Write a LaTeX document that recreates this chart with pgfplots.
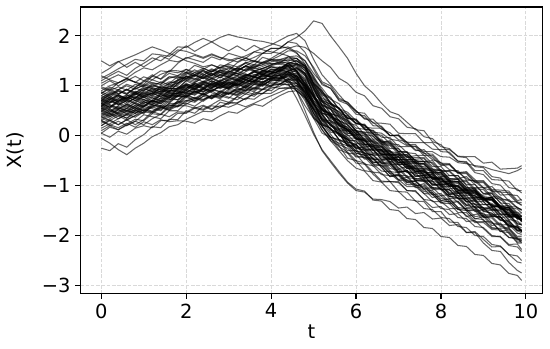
\documentclass[border=0pt]{standalone}
\usepackage{fontspec}
\setmainfont{DejaVu Sans}
\usepackage{pgfplots}
\usepackage{pgfplotstable}
\pgfplotsset{compat=1.18}
\usetikzlibrary{calc}

% one row per path, transposed below into columns t, p1, p2, ...
\pgfplotstableread{
name c0 c1 c2 c3 c4 c5 c6 c7 c8 c9 c10 c11 c12 c13 c14 c15 c16 c17 c18 c19 c20 c21 c22 c23 c24 c25 c26 c27 c28 c29 c30 c31 c32 c33 c34 c35 c36 c37 c38 c39 c40 c41 c42 c43 c44 c45 c46 c47 c48 c49 c50
t 0 0.2 0.4 0.6 0.8 1 1.2 1.4 1.6 1.8 2 2.2 2.4 2.6 2.8 3 3.2 3.4 3.6 3.8 4 4.2 4.4 4.6 4.8 5 5.2 5.4 5.6 5.8 6 6.2 6.4 6.6 6.8 7 7.2 7.4 7.6 7.8 8 8.2 8.4 8.6 8.8 9 9.2 9.4 9.6 9.8 9.9
p1 0.85 0.94 0.84 0.92 0.82 0.92 1.04 0.96 0.93 1.09 1.23 1.32 1.23 1.16 1.27 1.17 1.28 1.40 1.35 1.31 1.25 1.38 1.32 1.35 1.25 0.83 0.45 0.41 0.12 0.09 0.07 -0.15 -0.35 -0.30 -0.48 -0.42 -0.62 -0.81 -0.79 -1.00 -0.98 -1.18 -1.16 -1.12 -1.31 -1.51 -1.50 -1.49 -1.70 -1.90 -1.88
p2 0.20 0.32 0.22 0.32 0.22 0.32 0.48 0.43 0.61 0.60 0.77 0.70 0.84 0.76 0.90 0.85 0.80 0.93 0.88 1.03 0.98 1.15 1.12 1.20 1.10 0.67 0.32 0.30 0.05 -0.20 -0.17 -0.37 -0.55 -0.51 -0.70 -0.88 -0.83 -1.01 -0.96 -1.14 -1.30 -1.26 -1.44 -1.62 -1.58 -1.55 -1.73 -1.92 -1.88 -2.07 -2.08
p3 1.50 1.40 1.49 1.37 1.47 1.38 1.49 1.60 1.53 1.68 1.80 1.69 1.79 1.88 1.78 1.70 1.80 1.70 1.81 1.72 1.68 1.65 1.60 1.45 1.35 1.10 0.75 0.67 0.42 0.35 0.33 0.13 0.10 -0.11 -0.12 -0.32 -0.32 -0.51 -0.52 -0.50 -0.70 -0.70 -0.70 -0.89 -0.90 -0.90 -1.08 -1.09 -1.11 -1.30 -1.28
p4 -0.25 -0.30 -0.16 -0.23 -0.08 0.02 0.18 0.16 0.33 0.32 0.50 0.45 0.59 0.52 0.67 0.63 0.78 0.72 0.87 0.84 0.98 0.95 0.95 1.00 0.95 0.70 0.55 0.27 0.22 -0.05 -0.05 -0.27 -0.27 -0.48 -0.47 -0.42 -0.62 -0.60 -0.80 -0.77 -0.98 -0.95 -1.16 -1.14 -1.10 -1.28 -1.24 -1.43 -1.62 -1.59 -1.72
p5 0.70 0.80 0.69 0.79 0.89 0.85 0.82 0.98 0.95 0.95 1.10 1.21 1.15 1.28 1.37 1.31 1.46 1.55 1.48 1.65 1.75 1.75 1.88 1.97 2.10 2.30 2.25 2.00 1.78 1.55 1.25 1.00 0.85 0.65 0.48 0.42 0.27 0.12 0.10 -0.12 -0.18 -0.36 -0.51 -0.54 -0.74 -0.78 -0.96 -0.99 -1.18 -1.20 -1.30
p6 0.65 0.57 0.72 0.63 0.77 0.72 0.66 0.82 0.77 0.96 0.91 1.05 0.97 1.10 1.02 0.95 1.10 1.02 1.18 1.12 1.25 1.20 1.10 0.90 0.60 0.35 0.20 -0.03 -0.08 -0.30 -0.30 -0.47 -0.47 -0.63 -0.82 -0.78 -0.94 -0.91 -1.07 -1.24 -1.20 -1.36 -1.32 -1.49 -1.67 -1.62 -1.80 -1.77 -1.96 -2.15 -2.15
p7 1.00 1.10 1.00 1.10 1.19 1.10 1.22 1.13 1.25 1.20 1.33 1.22 1.31 1.20 1.30 1.20 1.30 1.40 1.31 1.27 1.38 1.33 1.45 1.50 1.40 0.95 0.60 0.53 0.25 0.17 -0.03 -0.23 -0.21 -0.39 -0.36 -0.54 -0.50 -0.68 -0.86 -0.82 -1.00 -0.96 -1.14 -1.09 -1.27 -1.45 -1.42 -1.59 -1.58 -1.75 -1.75
p8 0.35 0.44 0.34 0.43 0.52 0.46 0.58 0.52 0.65 0.80 0.77 0.89 0.83 0.94 0.88 0.83 0.96 0.90 1.03 0.99 1.12 1.10 1.10 1.00 0.75 0.40 0.12 -0.10 -0.20 -0.45 -0.50 -0.70 -0.73 -0.91 -0.92 -1.12 -1.13 -1.31 -1.32 -1.52 -1.52 -1.73 -1.74 -1.94 -1.94 -2.15 -2.30 -2.32 -2.54 -2.70 -2.75
p9 0.65 0.77 0.89 0.83 0.97 1.08 1.19 1.30 1.28 1.45 1.57 1.52 1.47 1.58 1.52 1.65 1.60 1.55 1.68 1.65 1.75 1.75 1.88 1.85 1.67 1.33 1.02 0.95 0.70 0.63 0.43 0.40 0.20 0.19 0.00 0.00 -0.18 -0.18 -0.36 -0.37 -0.55 -0.56 -0.74 -0.74 -0.92 -0.92 -1.10 -1.12 -1.31 -1.33 -1.40
p10 0.50 0.44 0.39 0.50 0.45 0.58 0.54 0.50 0.65 0.64 0.80 0.75 0.69 0.80 0.74 0.87 0.83 0.95 0.91 1.05 1.00 1.10 1.20 1.20 0.95 0.57 0.38 0.13 0.05 -0.20 -0.23 -0.23 -0.40 -0.38 -0.54 -0.72 -0.72 -0.90 -0.90 -0.90 -1.08 -1.08 -1.26 -1.26 -1.44 -1.60 -1.58 -1.57 -1.74 -1.91 -1.90
p11 1.10 1.20 1.29 1.21 1.35 1.45 1.56 1.50 1.63 1.78 1.77 1.87 1.95 1.88 1.97 2.03 1.98 1.95 1.91 1.89 1.85 1.80 1.75 1.65 1.50 1.17 0.85 0.77 0.52 0.43 0.25 0.21 0.03 -0.13 -0.16 -0.32 -0.33 -0.51 -0.52 -0.70 -0.70 -0.88 -0.88 -1.06 -1.07 -1.25 -1.26 -1.45 -1.46 -1.65 -1.65
p12 0.55 0.65 0.74 0.67 0.75 0.68 0.79 0.90 0.85 0.85 0.98 0.91 1.03 0.96 1.08 1.05 1.00 1.12 1.08 1.22 1.22 1.20 1.15 0.90 0.50 0.07 -0.30 -0.53 -0.75 -0.95 -1.10 -1.13 -1.27 -1.28 -1.32 -1.45 -1.43 -1.56 -1.54 -1.67 -1.65 -1.80 -1.78 -1.94 -1.92 -2.08 -2.23 -2.22 -2.38 -2.53 -2.55
p13 0.62 0.54 0.69 0.77 0.71 0.84 0.80 0.74 0.91 0.90 0.85 0.99 1.09 1.00 1.10 1.20 1.14 1.24 1.17 1.29 1.38 1.35 1.45 1.45 1.30 1.05 0.72 0.63 0.38 0.30 0.10 0.07 0.05 -0.13 -0.14 -0.32 -0.48 -0.48 -0.66 -0.67 -0.68 -0.86 -0.86 -1.04 -1.04 -1.04 -1.22 -1.23 -1.42 -1.43 -1.50
p14 0.25 0.34 0.44 0.35 0.45 0.55 0.49 0.60 0.55 0.70 0.83 0.75 0.85 0.76 0.86 0.97 0.90 1.00 1.11 1.05 1.15 1.13 1.22 1.25 1.13 0.77 0.60 0.37 0.32 0.10 0.10 -0.07 -0.07 -0.23 -0.40 -0.38 -0.53 -0.71 -0.68 -0.85 -0.82 -0.98 -0.96 -1.12 -1.30 -1.26 -1.43 -1.42 -1.60 -1.59 -1.68
p15 0.85 0.97 0.92 1.03 0.97 1.10 1.06 1.03 1.18 1.18 1.15 1.27 1.21 1.32 1.26 1.35 1.30 1.40 1.35 1.47 1.52 1.60 1.70 1.70 1.60 1.37 1.08 1.00 0.75 0.67 0.47 0.45 0.25 0.25 0.23 0.05 0.04 0.04 -0.14 -0.14 -0.32 -0.33 -0.51 -0.52 -0.70 -0.70 -0.88 -0.89 -0.91 -1.10 -1.10
p16 0.05 -0.03 0.09 0.03 0.15 0.20 0.16 0.30 0.31 0.45 0.45 0.55 0.51 0.60 0.57 0.67 0.65 0.75 0.73 0.85 0.85 0.95 0.97 1.00 0.87 0.53 0.22 0.15 -0.08 -0.17 -0.35 -0.39 -0.57 -0.71 -0.72 -0.88 -1.02 -1.02 -1.16 -1.32 -1.32 -1.46 -1.46 -1.60 -1.74 -1.74 -1.88 -1.89 -2.04 -2.05 -2.15
p17 0.75 0.67 0.82 0.73 0.65 0.78 0.89 0.83 0.95 0.94 1.05 0.97 1.07 1.15 1.08 1.17 1.10 1.20 1.29 1.25 1.32 1.30 1.40 1.27 1.00 0.80 0.62 0.37 0.30 0.05 0.03 -0.17 -0.19 -0.37 -0.38 -0.38 -0.56 -0.56 -0.74 -0.74 -0.92 -0.92 -1.10 -1.09 -1.27 -1.27 -1.28 -1.47 -1.48 -1.67 -1.68
p18 0.40 0.50 0.59 0.51 0.61 0.72 0.68 0.82 0.79 0.78 0.91 1.02 0.96 1.06 1.00 0.95 1.06 1.16 1.11 1.23 1.18 1.17 1.30 1.35 1.25 1.00 0.70 0.63 0.55 0.35 0.33 0.17 0.15 0.15 0.00 0.00 -0.13 -0.14 -0.14 -0.27 -0.28 -0.28 -0.41 -0.42 -0.42 -0.55 -0.53 -0.67 -0.66 -0.65 -0.60
p19 0.68 0.77 0.66 0.75 0.85 0.76 0.86 0.78 0.91 0.88 1.01 0.93 1.03 0.94 1.04 0.97 1.08 1.18 1.11 1.07 1.18 1.15 1.24 1.13 0.87 0.50 0.20 -0.03 -0.10 -0.35 -0.37 -0.57 -0.60 -0.78 -0.80 -0.80 -0.98 -0.98 -1.16 -1.17 -1.35 -1.36 -1.54 -1.54 -1.72 -1.72 -1.73 -1.92 -1.94 -2.13 -2.12
p20 1.20 1.12 1.06 1.15 1.07 1.00 1.12 1.06 1.18 1.15 1.27 1.19 1.29 1.20 1.30 1.37 1.30 1.40 1.49 1.43 1.52 1.53 1.54 1.55 1.40 1.05 0.88 0.65 0.56 0.33 0.15 0.13 -0.07 -0.07 -0.26 -0.26 -0.44 -0.44 -0.44 -0.62 -0.62 -0.80 -0.80 -0.98 -0.98 -1.16 -1.16 -1.35 -1.36 -1.55 -1.55
p21 0.10 0.20 0.12 0.21 0.29 0.22 0.34 0.43 0.38 0.48 0.47 0.57 0.53 0.62 0.72 0.67 0.78 0.88 0.83 0.93 1.02 1.03 1.12 1.13 1.00 0.77 0.45 0.40 0.15 0.10 -0.07 -0.07 -0.25 -0.23 -0.40 -0.58 -0.56 -0.72 -0.70 -0.87 -0.85 -1.01 -1.00 -1.16 -1.14 -1.30 -1.28 -1.45 -1.44 -1.61 -1.62
p22 0.90 1.00 1.06 1.13 1.07 1.18 1.12 1.23 1.29 1.26 1.33 1.27 1.35 1.28 1.37 1.43 1.38 1.46 1.51 1.45 1.52 1.47 1.40 1.15 0.80 0.45 0.12 -0.10 -0.30 -0.50 -0.65 -0.71 -0.90 -0.93 -1.10 -1.12 -1.28 -1.30 -1.46 -1.48 -1.64 -1.66 -1.82 -1.84 -2.00 -2.02 -2.18 -2.21 -2.38 -2.41 -2.50
p23 0.58 0.52 0.46 0.55 0.65 0.60 0.70 0.64 0.75 0.88 0.85 0.83 0.93 1.02 0.94 1.03 0.98 1.06 1.17 1.13 1.22 1.31 1.40 1.37 1.23 0.85 0.52 0.45 0.20 0.13 -0.05 -0.05 -0.23 -0.21 -0.37 -0.54 -0.53 -0.72 -0.70 -0.88 -0.88 -1.06 -1.06 -1.24 -1.24 -1.24 -1.42 -1.42 -1.61 -1.62 -1.70
p24 0.30 0.22 0.16 0.25 0.17 0.28 0.22 0.32 0.28 0.30 0.29 0.25 0.34 0.30 0.40 0.48 0.45 0.55 0.63 0.59 0.70 0.80 0.88 0.90 0.77 0.53 0.22 0.15 -0.08 -0.13 -0.31 -0.33 -0.53 -0.53 -0.54 -0.72 -0.72 -0.90 -0.90 -1.08 -1.08 -1.26 -1.26 -1.44 -1.44 -1.62 -1.62 -1.63 -1.82 -1.83 -1.92
p25 0.65 0.74 0.82 0.75 0.87 0.95 0.89 1.00 1.08 1.05 1.15 1.22 1.14 1.22 1.32 1.27 1.36 1.45 1.38 1.47 1.55 1.65 1.75 1.80 1.77 1.65 1.50 1.37 1.15 1.05 0.87 0.80 0.60 0.55 0.38 0.34 0.17 0.14 -0.02 -0.06 -0.22 -0.26 -0.42 -0.44 -0.62 -0.64 -0.82 -0.85 -1.04 -1.07 -1.15
p26 0.48 0.57 0.66 0.59 0.71 0.64 0.76 0.70 0.83 0.82 0.93 0.87 0.95 1.04 0.96 1.07 1.00 1.10 1.07 1.05 1.16 1.15 1.18 1.10 0.83 0.45 0.18 -0.03 -0.22 -0.33 -0.50 -0.55 -0.73 -0.75 -0.92 -0.94 -1.10 -1.12 -1.28 -1.30 -1.46 -1.48 -1.64 -1.66 -1.82 -1.84 -2.00 -2.03 -2.20 -2.23 -2.32
p27 0.95 0.90 0.84 0.93 0.85 0.80 0.92 0.86 0.95 0.92 1.03 0.99 0.95 1.05 1.00 1.11 1.18 1.12 1.21 1.29 1.28 1.35 1.42 1.40 1.23 0.95 0.72 0.53 0.42 0.21 0.07 0.03 -0.15 -0.17 -0.34 -0.36 -0.52 -0.54 -0.56 -0.72 -0.74 -0.90 -0.92 -1.09 -1.10 -1.26 -1.28 -1.45 -1.48 -1.65 -1.65
p28 0.55 0.50 0.44 0.51 0.45 0.52 0.48 0.56 0.51 0.60 0.60 0.55 0.61 0.54 0.60 0.57 0.64 0.58 0.65 0.73 0.80 0.87 0.95 0.95 0.80 0.53 0.32 0.13 0.05 -0.15 -0.31 -0.35 -0.53 -0.55 -0.72 -0.74 -0.90 -0.92 -1.08 -1.10 -1.26 -1.28 -1.44 -1.46 -1.47 -1.63 -1.65 -1.82 -1.85 -2.02 -2.02
p29 0.72 0.82 0.90 0.83 0.95 1.00 1.06 1.03 1.15 1.20 1.27 1.23 1.33 1.42 1.36 1.45 1.54 1.60 1.68 1.75 1.82 1.91 2.00 2.05 1.90 1.53 1.22 1.03 0.82 0.63 0.50 0.35 0.27 0.13 0.06 -0.08 -0.13 -0.28 -0.34 -0.48 -0.54 -0.68 -0.73 -0.86 -0.92 -1.05 -1.10 -1.25 -1.31 -1.45 -1.48
p30 0.38 0.47 0.56 0.49 0.61 0.58 0.70 0.68 0.81 0.80 0.91 0.85 0.94 0.90 0.98 1.07 1.02 1.10 1.09 1.19 1.20 1.21 1.28 1.20 0.97 0.63 0.42 0.20 0.10 -0.13 -0.17 -0.35 -0.39 -0.55 -0.58 -0.58 -0.74 -0.74 -0.92 -0.92 -1.08 -1.08 -1.26 -1.26 -1.44 -1.44 -1.62 -1.63 -1.82 -1.83 -1.92
p31 0.60 0.70 0.62 0.71 0.79 0.72 0.82 0.90 0.87 0.90 1.01 0.95 1.03 1.10 1.04 1.13 1.20 1.12 1.21 1.27 1.28 1.23 1.05 0.75 0.40 0.03 -0.28 -0.50 -0.72 -0.93 -1.07 -1.11 -1.29 -1.31 -1.48 -1.50 -1.66 -1.68 -1.84 -1.86 -2.02 -2.04 -2.20 -2.22 -2.38 -2.40 -2.56 -2.59 -2.76 -2.80 -2.90
p32 0.80 0.90 0.98 0.91 1.03 0.98 0.96 0.92 1.05 1.18 1.13 1.21 1.15 1.24 1.16 1.27 1.20 1.28 1.37 1.31 1.38 1.37 1.40 1.37 1.20 0.93 0.62 0.53 0.30 0.21 0.03 -0.01 -0.19 -0.21 -0.38 -0.40 -0.40 -0.56 -0.58 -0.74 -0.76 -0.92 -0.94 -1.10 -1.12 -1.28 -1.30 -1.47 -1.50 -1.67 -1.68
p33 0.15 0.24 0.34 0.43 0.37 0.48 0.58 0.70 0.67 0.80 0.79 0.89 0.83 0.92 0.88 0.99 0.96 1.06 1.03 1.15 1.12 1.21 1.22 1.15 1.00 0.75 0.55 0.35 0.26 0.05 0.01 -0.17 -0.21 -0.37 -0.40 -0.56 -0.58 -0.74 -0.76 -0.92 -0.94 -1.10 -1.12 -1.28 -1.30 -1.46 -1.48 -1.51 -1.68 -1.71 -1.80
p34 1.05 1.14 1.22 1.15 1.27 1.36 1.32 1.42 1.51 1.48 1.55 1.61 1.55 1.62 1.56 1.50 1.56 1.50 1.57 1.65 1.65 1.75 1.78 1.67 1.43 1.15 0.95 0.73 0.64 0.41 0.25 0.21 0.03 0.01 -0.16 -0.18 -0.34 -0.36 -0.52 -0.54 -0.70 -0.72 -0.88 -0.90 -1.06 -1.08 -1.24 -1.27 -1.44 -1.47 -1.55
p35 0.45 0.38 0.48 0.55 0.49 0.60 0.70 0.64 0.77 0.78 0.87 0.95 0.89 0.96 1.04 0.97 1.06 1.14 1.07 1.15 1.14 1.23 1.30 1.22 0.95 0.60 0.30 0.23 0.00 -0.07 -0.25 -0.29 -0.47 -0.49 -0.66 -0.68 -0.84 -0.86 -0.88 -1.04 -1.06 -1.22 -1.24 -1.40 -1.42 -1.44 -1.60 -1.63 -1.80 -1.83 -1.90
p36 0.62 0.72 0.80 0.73 0.83 0.76 0.86 0.94 0.89 0.92 1.03 0.99 1.07 1.02 1.12 1.05 1.14 1.22 1.17 1.25 1.25 1.29 1.36 1.30 1.15 0.90 0.68 0.57 0.48 0.37 0.25 0.21 0.07 0.05 -0.07 -0.10 -0.20 -0.21 -0.32 -0.32 -0.42 -0.43 -0.54 -0.56 -0.60 -0.62 -0.68 -0.72 -0.76 -0.70 -0.65
p37 0.52 0.62 0.54 0.63 0.57 0.68 0.62 0.74 0.85 0.84 0.95 1.03 1.09 1.02 1.10 1.17 1.12 1.20 1.27 1.23 1.30 1.30 1.32 1.27 1.05 0.80 0.52 0.43 0.20 0.11 -0.07 -0.09 -0.29 -0.29 -0.48 -0.48 -0.66 -0.66 -0.84 -0.84 -1.02 -1.02 -1.20 -1.20 -1.38 -1.38 -1.38 -1.57 -1.58 -1.77 -1.78
p38 0.70 0.62 0.56 0.48 0.57 0.50 0.60 0.60 0.59 0.68 0.70 0.77 0.73 0.80 0.78 0.85 0.82 0.90 0.95 0.92 1.00 1.03 1.12 1.10 0.87 0.55 0.25 0.15 -0.08 -0.17 -0.35 -0.39 -0.57 -0.59 -0.76 -0.78 -0.94 -0.96 -1.12 -1.14 -1.30 -1.32 -1.48 -1.50 -1.66 -1.68 -1.84 -1.87 -2.04 -2.07 -2.10
p39 -0.05 -0.15 -0.28 -0.38 -0.25 -0.15 -0.02 0.06 0.18 0.22 0.33 0.41 0.49 0.48 0.57 0.65 0.66 0.75 0.83 0.85 0.95 0.99 1.08 1.05 0.90 0.63 0.42 0.20 0.12 -0.09 -0.11 -0.27 -0.29 -0.43 -0.44 -0.58 -0.58 -0.72 -0.72 -0.86 -0.86 -1.00 -1.00 -1.14 -1.14 -1.28 -1.28 -1.43 -1.56 -1.59 -1.68
p40 0.88 0.80 0.92 0.85 0.95 0.90 1.00 0.96 1.05 1.10 1.18 1.12 1.20 1.15 1.22 1.18 1.25 1.20 1.28 1.35 1.40 1.45 1.48 1.42 1.25 0.97 0.68 0.59 0.36 0.27 0.09 0.05 -0.13 -0.15 -0.32 -0.34 -0.50 -0.52 -0.68 -0.70 -0.86 -0.88 -1.04 -1.06 -1.22 -1.24 -1.40 -1.43 -1.60 -1.63 -1.70
p41 1.25 1.35 1.48 1.55 1.62 1.70 1.78 1.72 1.65 1.58 1.50 1.45 1.38 1.42 1.35 1.40 1.32 1.38 1.30 1.35 1.42 1.48 1.52 1.50 1.35 1.00 0.80 0.57 0.48 0.25 0.21 0.03 -0.01 -0.17 -0.20 -0.36 -0.38 -0.54 -0.56 -0.72 -0.74 -0.90 -0.92 -1.08 -1.10 -1.26 -1.28 -1.45 -1.48 -1.65 -1.66
p42 0.32 0.42 0.52 0.43 0.53 0.62 0.56 0.68 0.77 0.72 0.83 0.92 0.87 0.96 1.06 1.01 1.10 1.16 1.23 1.17 1.25 1.29 1.28 1.17 0.93 0.65 0.35 0.25 0.02 -0.07 -0.25 -0.29 -0.47 -0.49 -0.52 -0.68 -0.70 -0.86 -0.88 -1.04 -1.06 -1.22 -1.24 -1.40 -1.42 -1.58 -1.60 -1.63 -1.80 -1.83 -1.92
p43 0.75 0.84 0.92 1.00 0.93 1.02 0.98 1.08 1.02 1.12 1.18 1.22 1.18 1.25 1.20 1.28 1.35 1.30 1.38 1.42 1.48 1.52 1.58 1.55 1.37 1.03 0.85 0.63 0.54 0.35 0.31 0.15 -0.01 -0.15 -0.18 -0.32 -0.34 -0.50 -0.52 -0.68 -0.70 -0.86 -0.88 -1.04 -1.06 -1.22 -1.24 -1.41 -1.44 -1.61 -1.62
p44 0.20 0.30 0.22 0.32 0.40 0.48 0.45 0.55 0.62 0.58 0.68 0.75 0.72 0.80 0.88 0.85 0.92 0.98 1.05 1.02 1.10 1.15 1.20 1.12 0.92 0.62 0.42 0.20 0.08 -0.12 -0.18 -0.36 -0.38 -0.55 -0.56 -0.74 -0.70 -0.90 -0.92 -1.06 -1.04 -1.22 -1.20 -1.38 -1.36 -1.52 -1.55 -1.70 -1.72 -1.86 -1.92
p45 0.58 0.66 0.74 0.82 0.76 0.86 0.94 0.88 0.99 1.06 1.12 1.06 1.17 1.12 1.22 1.30 1.24 1.33 1.41 1.34 1.42 1.48 1.45 1.30 1.00 0.66 0.44 0.22 0.14 -0.08 -0.10 -0.30 -0.28 -0.48 -0.46 -0.66 -0.62 -0.82 -0.80 -0.98 -0.96 -1.16 -1.12 -1.32 -1.28 -1.48 -1.44 -1.64 -1.62 -1.80 -1.85
p46 0.48 0.40 0.52 0.60 0.53 0.65 0.70 0.66 0.80 0.86 0.88 0.94 0.88 1.00 0.96 1.06 1.00 1.12 1.08 1.20 1.25 1.30 1.38 1.30 1.10 0.80 0.58 0.40 0.30 0.10 0.05 -0.12 -0.10 -0.28 -0.30 -0.44 -0.42 -0.60 -0.62 -0.76 -0.78 -0.94 -0.92 -1.10 -1.12 -1.26 -1.24 -1.42 -1.44 -1.58 -1.62
p47 0.85 0.76 0.68 0.78 0.70 0.80 0.85 0.78 0.88 0.96 1.02 0.95 1.05 0.98 1.08 1.02 1.12 1.05 1.15 1.20 1.18 1.26 1.28 1.18 0.98 0.70 0.46 0.33 0.12 0.02 -0.15 -0.18 -0.36 -0.40 -0.52 -0.58 -0.70 -0.78 -0.86 -0.96 -1.02 -1.14 -1.20 -1.32 -1.38 -1.50 -1.56 -1.68 -1.76 -1.90 -1.95
p48 0.30 0.38 0.46 0.40 0.50 0.58 0.66 0.60 0.72 0.80 0.78 0.86 0.95 0.90 0.98 0.94 1.04 1.00 1.10 1.08 1.15 1.22 1.25 1.20 1.05 0.78 0.55 0.42 0.22 0.12 -0.05 -0.10 -0.26 -0.28 -0.42 -0.48 -0.58 -0.66 -0.72 -0.84 -0.88 -1.00 -1.02 -1.16 -1.20 -1.30 -1.36 -1.46 -1.55 -1.64 -1.70
p49 0.70 0.84 0.79 0.67 0.75 0.90 1.02 0.95 0.89 1.04 1.20 1.15 1.08 1.21 1.32 1.24 1.20 1.34 1.29 1.21 1.33 1.33 1.46 1.30 1.05 0.85 0.68 0.43 0.40 0.31 0.10 -0.10 -0.11 -0.10 -0.30 -0.48 -0.48 -0.47 -0.46 -0.66 -0.82 -0.80 -0.80 -1.00 -1.18 -1.19 -1.16 -1.34 -1.54 -1.53 -1.62
p50 0.42 0.54 0.42 0.35 0.50 0.44 0.62 0.58 0.51 0.66 0.80 0.69 0.79 0.90 0.80 0.75 0.89 0.83 0.97 0.93 1.08 1.05 1.02 0.90 0.75 0.37 0.20 -0.07 -0.15 -0.20 -0.41 -0.43 -0.45 -0.64 -0.82 -0.80 -0.80 -1.00 -0.99 -1.18 -1.34 -1.31 -1.31 -1.50 -1.50 -1.70 -1.86 -1.85 -1.86 -2.05 -2.06
p51 0.98 0.92 1.06 1.15 1.07 1.03 1.19 1.14 1.31 1.30 1.27 1.41 1.35 1.28 1.42 1.38 1.33 1.47 1.42 1.57 1.52 1.51 1.50 1.55 1.43 1.05 0.90 0.67 0.44 0.40 0.23 0.23 0.05 -0.13 -0.10 -0.26 -0.43 -0.40 -0.39 -0.57 -0.73 -0.70 -0.86 -0.82 -0.98 -1.16 -1.13 -1.29 -1.28 -1.45 -1.48
p52 0.30 0.20 0.29 0.20 0.29 0.42 0.38 0.34 0.50 0.50 0.65 0.59 0.71 0.82 0.76 0.90 0.86 0.98 0.93 1.07 1.15 1.13 1.26 1.30 1.03 0.65 0.52 0.29 0.24 0.00 0.01 -0.18 -0.17 -0.33 -0.52 -0.48 -0.65 -0.61 -0.78 -0.76 -0.93 -0.90 -1.08 -1.26 -1.25 -1.23 -1.42 -1.42 -1.62 -1.62 -1.72
p53 0.60 0.74 0.62 0.75 0.87 0.78 0.69 0.84 0.75 0.94 1.10 1.02 0.92 1.06 1.18 1.09 1.02 1.18 1.31 1.23 1.16 1.33 1.28 1.10 0.85 0.65 0.30 0.07 0.04 -0.21 -0.19 -0.40 -0.37 -0.35 -0.56 -0.74 -0.70 -0.88 -0.84 -0.80 -1.00 -1.18 -1.14 -1.32 -1.52 -1.48 -1.44 -1.63 -1.84 -1.80 -1.90
p54 0.80 0.72 0.82 0.93 0.87 0.82 0.96 0.92 0.88 1.05 1.19 1.13 1.25 1.34 1.27 1.23 1.36 1.30 1.43 1.39 1.45 1.45 1.58 1.60 1.50 1.25 1.05 0.95 0.72 0.67 0.50 0.33 0.33 0.17 0.00 0.02 -0.14 -0.30 -0.28 -0.44 -0.60 -0.58 -0.74 -0.72 -0.88 -1.04 -1.02 -1.19 -1.18 -1.35 -1.38
p55 0.50 0.60 0.52 0.45 0.57 0.68 0.62 0.56 0.69 0.85 0.80 0.89 0.81 0.90 1.00 0.93 1.04 0.96 1.07 1.01 1.12 1.10 1.08 0.95 0.70 0.35 0.05 -0.03 -0.28 -0.35 -0.55 -0.57 -0.77 -0.93 -0.92 -0.92 -1.10 -1.10 -1.29 -1.44 -1.42 -1.58 -1.56 -1.72 -1.70 -1.86 -2.02 -2.02 -2.18 -2.17 -2.28
p56 0.75 0.87 0.81 0.73 0.85 0.98 0.94 0.88 1.02 1.01 1.15 1.09 1.21 1.30 1.22 1.17 1.29 1.23 1.18 1.31 1.28 1.25 1.22 1.05 0.77 0.53 0.35 0.11 0.04 -0.03 -0.23 -0.25 -0.45 -0.45 -0.46 -0.64 -0.82 -0.81 -0.80 -0.98 -0.98 -0.96 -1.14 -1.32 -1.32 -1.32 -1.50 -1.69 -1.70 -1.89 -1.90
p57 0.55 0.47 0.60 0.71 0.64 0.58 0.72 0.86 0.81 0.80 0.94 1.05 0.96 0.88 1.00 1.12 1.04 0.96 1.10 1.23 1.18 1.15 1.30 1.33 1.20 0.83 0.50 0.45 0.22 0.17 -0.02 -0.21 -0.21 -0.38 -0.36 -0.54 -0.53 -0.52 -0.70 -0.87 -0.85 -1.02 -1.00 -1.17 -1.15 -1.32 -1.48 -1.47 -1.64 -1.63 -1.72
p58 1.15 1.24 1.34 1.43 1.53 1.50 1.64 1.62 1.59 1.72 1.69 1.63 1.57 1.64 1.57 1.53 1.48 1.56 1.49 1.47 1.44 1.43 1.40 1.43 1.31 0.95 0.62 0.55 0.30 0.23 0.03 0.01 -0.19 -0.19 -0.38 -0.38 -0.38 -0.56 -0.56 -0.74 -0.74 -0.92 -0.92 -0.92 -1.10 -1.26 -1.24 -1.41 -1.40 -1.57 -1.60
p59 0.52 0.44 0.54 0.63 0.55 0.50 0.64 0.76 0.73 0.72 0.87 0.81 0.93 0.86 0.80 0.93 0.88 1.00 0.95 1.09 1.05 1.03 1.15 1.05 0.80 0.45 0.25 0.03 -0.18 -0.25 -0.43 -0.43 -0.61 -0.59 -0.76 -0.90 -0.88 -1.04 -1.02 -1.18 -1.16 -1.32 -1.48 -1.46 -1.62 -1.60 -1.76 -1.75 -1.92 -2.09 -2.10
p60 0.72 0.66 0.78 0.70 0.82 0.94 0.88 0.84 0.99 0.98 0.95 1.07 1.17 1.08 1.02 1.15 1.10 1.22 1.17 1.31 1.28 1.27 1.42 1.45 1.35 1.13 0.82 0.75 0.54 0.47 0.30 0.13 0.11 -0.03 -0.04 -0.22 -0.22 -0.22 -0.40 -0.40 -0.58 -0.58 -0.76 -0.76 -0.94 -0.94 -1.12 -1.13 -1.14 -1.33 -1.34
p61 0.38 0.30 0.40 0.31 0.41 0.52 0.46 0.58 0.53 0.68 0.63 0.73 0.83 0.74 0.84 0.77 0.72 0.84 0.79 0.93 0.90 1.03 1.02 1.05 0.90 0.65 0.32 0.25 0.00 -0.07 -0.27 -0.45 -0.45 -0.61 -0.60 -0.76 -0.92 -0.90 -1.06 -1.04 -1.20 -1.18 -1.34 -1.50 -1.48 -1.64 -1.62 -1.79 -1.78 -1.95 -1.98
p62 0.65 0.57 0.70 0.81 0.75 0.88 0.84 0.98 0.95 1.12 1.25 1.19 1.31 1.24 1.16 1.29 1.24 1.16 1.28 1.22 1.34 1.31 1.45 1.50 1.40 1.03 0.70 0.45 0.38 0.13 0.11 -0.09 -0.29 -0.27 -0.44 -0.42 -0.60 -0.76 -0.74 -0.74 -0.92 -0.91 -1.09 -1.08 -1.07 -1.25 -1.24 -1.43 -1.44 -1.63 -1.66
p63 0.58 0.70 0.64 0.55 0.67 0.80 0.76 0.70 0.87 0.85 1.00 0.93 1.05 1.15 1.07 1.00 1.13 1.06 1.19 1.14 1.25 1.37 1.35 1.43 1.40 1.20 0.90 0.65 0.55 0.30 0.10 0.07 -0.13 -0.31 -0.32 -0.50 -0.66 -0.64 -0.80 -0.78 -0.95 -0.94 -1.10 -1.08 -1.25 -1.24 -1.40 -1.39 -1.58 -1.59 -1.68
p64 0.05 0.17 0.12 0.23 0.33 0.30 0.44 0.42 0.57 0.58 0.71 0.67 0.79 0.74 0.86 0.83 0.94 0.90 1.03 1.01 1.12 1.11 1.24 1.15 1.03 0.80 0.50 0.43 0.20 0.13 -0.07 -0.09 -0.29 -0.29 -0.48 -0.48 -0.48 -0.66 -0.66 -0.84 -0.84 -1.02 -1.02 -1.20 -1.20 -1.38 -1.38 -1.57 -1.58 -1.77 -1.78
}\rawpaths
\pgfplotstabletranspose[colnames from=name]\paths\rawpaths

\begin{document}
\begin{tikzpicture}[font=\fontsize{14}{16}\selectfont]
\begin{axis}[name=ax,
	scale only axis, width=332.9pt, height=206.6pt,
	xmin=-0.495, xmax=10.395, ymin=-3.17, ymax=2.58,
	xtick={0,2,4,6,8,10}, ytick={-3,-2,-1,0,1,2},
	yticklabels={−3,−2,−1,0,1,2},
	/pgf/number format/assume math mode=true,
	tick pos=left, tick align=outside, major tick length=3.5pt,
	tick style={black, line width=0.8pt},
	axis line style={line width=0.8pt},
	grid=major, grid style={gray!30, line width=0.6pt, dash pattern=on 2.6pt off 1.2pt},
	tick label style={font=\fontsize{14}{16}\selectfont},
	xlabel={t}, ylabel={X(t)},
	xlabel style={at={(axis description cs:0.5,-0.131)}, anchor=center},
	ylabel style={at={(axis description cs:-0.140,0.5)}, anchor=center}]
\pgfplotsinvokeforeach{1,...,64}{
	\addplot[black, opacity=0.6, line width=0.75pt, mark=none] table[x=t, y=p#1]{\paths};
}
\end{axis}
\pgfresetboundingbox
\path ($(ax.south west)+(-57.8pt,-39.6pt)$) rectangle ($(ax.north east)+(5.3pt,5.0pt)$);
\end{tikzpicture}
\end{document}
